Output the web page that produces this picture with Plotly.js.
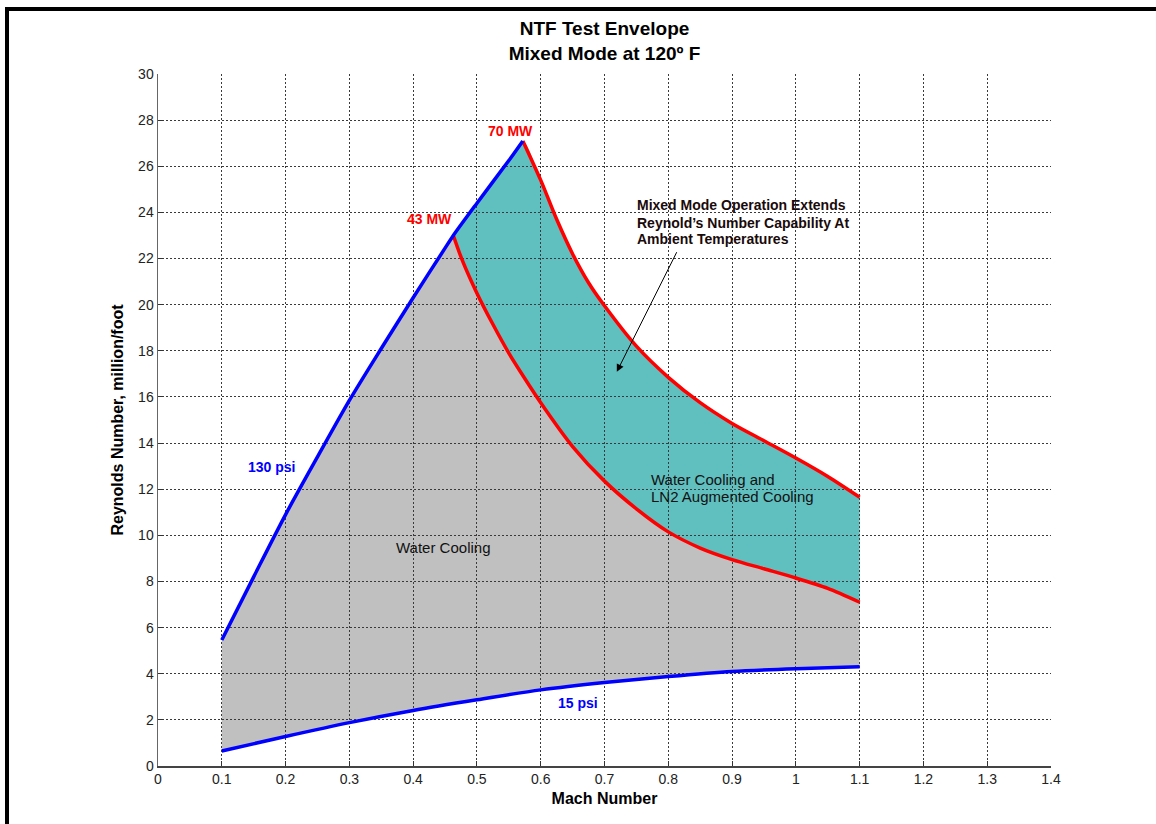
<!DOCTYPE html>
<html><head><meta charset="utf-8">
<script src="https://cdn.plot.ly/plotly-3.0.1.min.js"></script>
<style>
html,body{margin:0;padding:0;background:#fff;}
#chart{width:1156px;height:824px;position:absolute;left:0;top:0;}
#frameTop{position:absolute;left:5px;top:7px;width:1151px;height:4px;background:#000;}
#frameLeft{position:absolute;left:5px;top:7px;width:4px;height:817px;background:#000;}
</style>
</head><body>
<div id="chart"></div><div id="frameTop"></div><div id="frameLeft"></div>
<script>
// 130 psi boundary (upper blue)
const mach130 = [0.1, 0.15, 0.2, 0.25, 0.3, 0.35, 0.4, 0.45, 0.463, 0.5, 0.55, 0.572];
const re130   = [5.46, 8.2, 10.9, 13.4, 15.85, 18.1, 20.3, 22.45, 23.0, 24.4, 26.25, 27.1];
// 15 psi boundary (lower blue)
const mach15 = [0.1, 0.2, 0.3, 0.4, 0.5, 0.6, 0.7, 0.8, 0.9, 1.0, 1.1];
const re15   = [0.65, 1.28, 1.88, 2.41, 2.87, 3.30, 3.62, 3.88, 4.10, 4.22, 4.30];
// 43 MW power limit (lower red)
const mach43 = [0.463, 0.476, 0.5, 0.525, 0.55, 0.575, 0.6, 0.65, 0.7, 0.75, 0.8, 0.85, 0.9, 0.95, 1.0, 1.05, 1.1];
const re43   = [23.0, 22.0, 20.5, 19.15, 17.9, 16.8, 15.75, 13.85, 12.35, 11.15, 10.15, 9.45, 8.95, 8.55, 8.15, 7.7, 7.1];
// 70 MW power limit (upper red)
const mach70 = [0.572, 0.6, 0.625, 0.65, 0.675, 0.7, 0.75, 0.8, 0.85, 0.9, 0.95, 1.0, 1.05, 1.1];
const re70   = [27.1, 25.4, 23.7, 22.2, 20.95, 19.95, 18.2, 16.85, 15.75, 14.85, 14.1, 13.35, 12.55, 11.65];

const junction43 = 0.463;

// upper boundaries of the two filled regions, built from the curves
const upLowIdx = mach130.map((m,i)=>i).filter(i=>mach130[i] < junction43);
const upHighIdx = mach130.map((m,i)=>i).filter(i=>mach130[i] > junction43);

const grayTopX = upLowIdx.map(i=>mach130[i]).concat(mach43);
const grayTopY = upLowIdx.map(i=>re130[i]).concat(re43);
const tealTopX = [junction43].concat(upHighIdx.map(i=>mach130[i]), mach70.slice(1));
const tealTopY = [re43[0]].concat(upHighIdx.map(i=>re130[i]), re70.slice(1));

const FONT = 'Liberation Sans, Arial, sans-serif';
const SPL = {shape:'spline', smoothing:0.8};

const traces = [
  {x: mach15, y: re15, xaxis:'x', yaxis:'y', mode:'lines', line:Object.assign({width:0, color:'#c0c0c0'}, SPL), hoverinfo:'skip', showlegend:false},
  {x: grayTopX, y: grayTopY, xaxis:'x', yaxis:'y', mode:'lines', fill:'tonexty', fillcolor:'#c0c0c0', line:Object.assign({width:0, color:'#c0c0c0'}, SPL), hoverinfo:'skip', showlegend:false},
  {x: mach43, y: re43, xaxis:'x', yaxis:'y', mode:'lines', line:Object.assign({width:0, color:'#60bfbf'}, SPL), hoverinfo:'skip', showlegend:false},
  {x: tealTopX, y: tealTopY, xaxis:'x', yaxis:'y', mode:'lines', fill:'tonexty', fillcolor:'#60bfbf', line:Object.assign({width:0, color:'#60bfbf'}, SPL), hoverinfo:'skip', showlegend:false},
  {x: mach43, y: re43, xaxis:'x2', yaxis:'y2', mode:'lines', line:Object.assign({color:'#ff0000', width:3.5}, SPL), showlegend:false},
  {x: mach70, y: re70, xaxis:'x2', yaxis:'y2', mode:'lines', line:Object.assign({color:'#ff0000', width:3.5}, SPL), showlegend:false},
  {x: mach130, y: re130, xaxis:'x2', yaxis:'y2', mode:'lines', line:Object.assign({color:'#0000ff', width:3.5}, SPL), showlegend:false},
  {x: mach15, y: re15, xaxis:'x2', yaxis:'y2', mode:'lines', line:Object.assign({color:'#0000ff', width:3.5}, SPL), showlegend:false}
];

const xRange = [0, 1.4], yRange = [0, 30];

function ann(text, x, y, color, size, bold, xanchor){
  return {text: bold ? '<b>'+text+'</b>' : text, x:x, y:y, xref:'x2', yref:'y2', showarrow:false,
    xanchor: xanchor || 'center', yanchor:'middle', font:{family:FONT, size:size, color:color}};
}

const annotations = [
  ann('70 MW', 0.553, 27.55, '#ff0000', 14, true),
  ann('43 MW', 0.426, 23.71, '#ff0000', 14, true),
  ann('130 psi', 0.1777, 12.95, '#0000ff', 14, true),
  ann('15 psi', 0.658, 2.73, '#0000ff', 14, true),
  ann('Water Cooling', 0.4464, 9.48, '#111111', 15, false),
  ann('Water Cooling and', 0.7705, 12.43, '#111111', 15, false, 'left'),
  ann('LN2 Augmented Cooling', 0.7705, 11.69, '#111111', 15, false, 'left'),
  ann('Mixed Mode Operation Extends', 0.748, 24.32, '#1a0a0a', 14, true, 'left'),
  ann('Reynold\u2019s Number Capability At', 0.748, 23.56, '#1a0a0a', 14, true, 'left'),
  ann('Ambient Temperatures', 0.748, 22.84, '#1a0a0a', 14, true, 'left'),
  {x:0.7193, y:17.09, ax:0.8144, ay:22.34, xref:'x2', yref:'y2', axref:'x2', ayref:'y2', text:'', showarrow:true,
   arrowhead:2, arrowsize:1.5, arrowwidth:1, arrowcolor:'#000', standoff:0}
];

const layout = {
  width:1156, height:824,
  margin:{l:158, r:105, t:74, b:58},
  paper_bgcolor:'#ffffff', plot_bgcolor:'rgba(0,0,0,0)',
  font:{family:FONT, size:14, color:'#222'},
  title:{text:'<b>NTF Test Envelope</b><br><b>Mixed Mode at 120\u00ba F</b>', x:0.5, xref:'paper', xanchor:'center',
    y:1-35/824, yref:'container', yanchor:'middle', font:{family:FONT, size:19, color:'#000'}},
  xaxis:{domain:[0,1], anchor:'y', range:xRange, visible:false, fixedrange:true},
  yaxis:{domain:[0,1], anchor:'x', range:yRange, visible:false, fixedrange:true},
  xaxis2:{domain:[0,1], anchor:'y2', range:xRange, dtick:0.1, tick0:0, tickmode:'linear',
    showgrid:true, gridcolor:'#3a3a3a', gridwidth:1, griddash:'2px,2px', zeroline:false,
    showline:true, linecolor:'#444', linewidth:1.5, ticks:'inside', ticklen:5, tickcolor:'#333',
    tickfont:{family:FONT, size:14, color:'#222'},
    title:{text:'<b>Mach Number</b>', font:{family:FONT, size:16, color:'#000'}, standoff:6}},
  yaxis2:{domain:[0,1], anchor:'x2', range:yRange, dtick:2, tick0:0, tickmode:'linear',
    showgrid:true, gridcolor:'#3a3a3a', gridwidth:1, griddash:'2px,2px', zeroline:false,
    showline:true, linecolor:'#666', linewidth:1.5, ticks:'inside', ticklen:5, tickcolor:'#333',
    tickfont:{family:FONT, size:14, color:'#222'},
    title:{text:'<b>Reynolds Number, million/foot</b>', font:{family:FONT, size:16, color:'#000'}, standoff:10}},
  annotations: annotations,
  showlegend:false
};

Plotly.newPlot('chart', traces, layout, {displayModeBar:false, staticPlot:true});
</script>
</body></html>
